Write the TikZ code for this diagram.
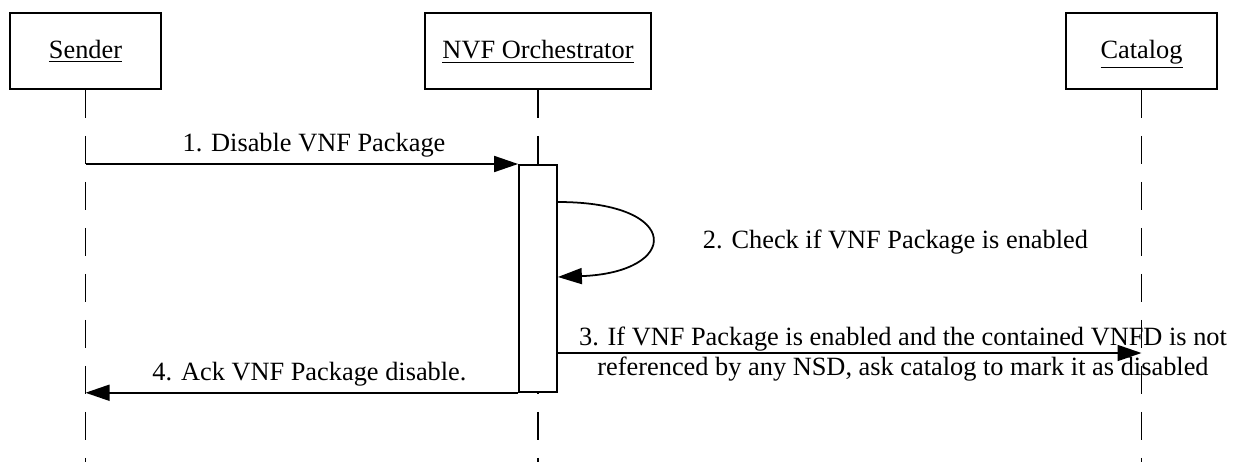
\documentclass[tikz,border=0pt]{standalone}
\usepackage{fontspec}
\setmainfont{Liberation Serif}
\usetikzlibrary{arrows.meta}
\begin{document}
\begin{tikzpicture}[
  every node/.style={font=\fontsize{15}{17.1}\selectfont},
  actor/.style={draw, line width=1pt, minimum height=1.52cm, inner sep=0pt, text height=0.42cm, text depth=0.1cm},
  life/.style={line width=1pt, dash pattern=on 0.56cm off 0.36cm},
  msg/.style={line width=1pt, -{Triangle[length=0.48cm, width=0.32cm]}}
]
\useasboundingbox (0,0) rectangle (24.68,-9.24);
\coordinate (bottom) at (0,-9.24);

\node [actor, minimum width=3.03cm] (sender) at (1.71,-1.02) {\underline{Sender}};
\node [actor, minimum width=4.52cm] (nfvo) at (10.76,-1.02) {\underline{NVF Orchestrator}};
\node [actor, minimum width=3.02cm] (catalog) at (22.83,-1.02) {\underline{Catalog}};

\draw [life](sender.south) -- (sender.south |- bottom);
\draw [life](nfvo.south) -- (nfvo.south |- bottom);
\draw [life](catalog.south) -- (catalog.south |- bottom);

\node [draw, line width=1pt, fill=white, minimum width=0.76cm, minimum height=4.54cm, inner sep=0pt, anchor=north] (act) at (10.76,-3.28) {};

\draw [msg](sender.south |- act.north west) -- (act.north west);
\node [anchor=base] (m1) at (6.28,-3.04) {1. Disable VNF Package};

\draw [msg](act.east |- 0,-4.04) .. controls (13.67,-4.04) and (13.6,-5.45) .. (act.east |- 0,-5.54);
\node [anchor=base] (m2) at (17.91,-4.96) {2. Check if VNF Package is enabled};

\draw [msg](act.east |- 0,-7.06) -- (catalog.south |- 0,-7.06);
\node [align=center] (m3) at (18.06,-7.08) {3. If VNF Package is enabled and the contained VNFD is not\\referenced by any NSD, ask catalog to mark it as disabled};

\draw [msg](act.south west) -- (sender.south |- act.south west);
\node [anchor=base] (m4) at (6.19,-7.6) {4. Ack VNF Package disable.};
\end{tikzpicture}
\end{document}
